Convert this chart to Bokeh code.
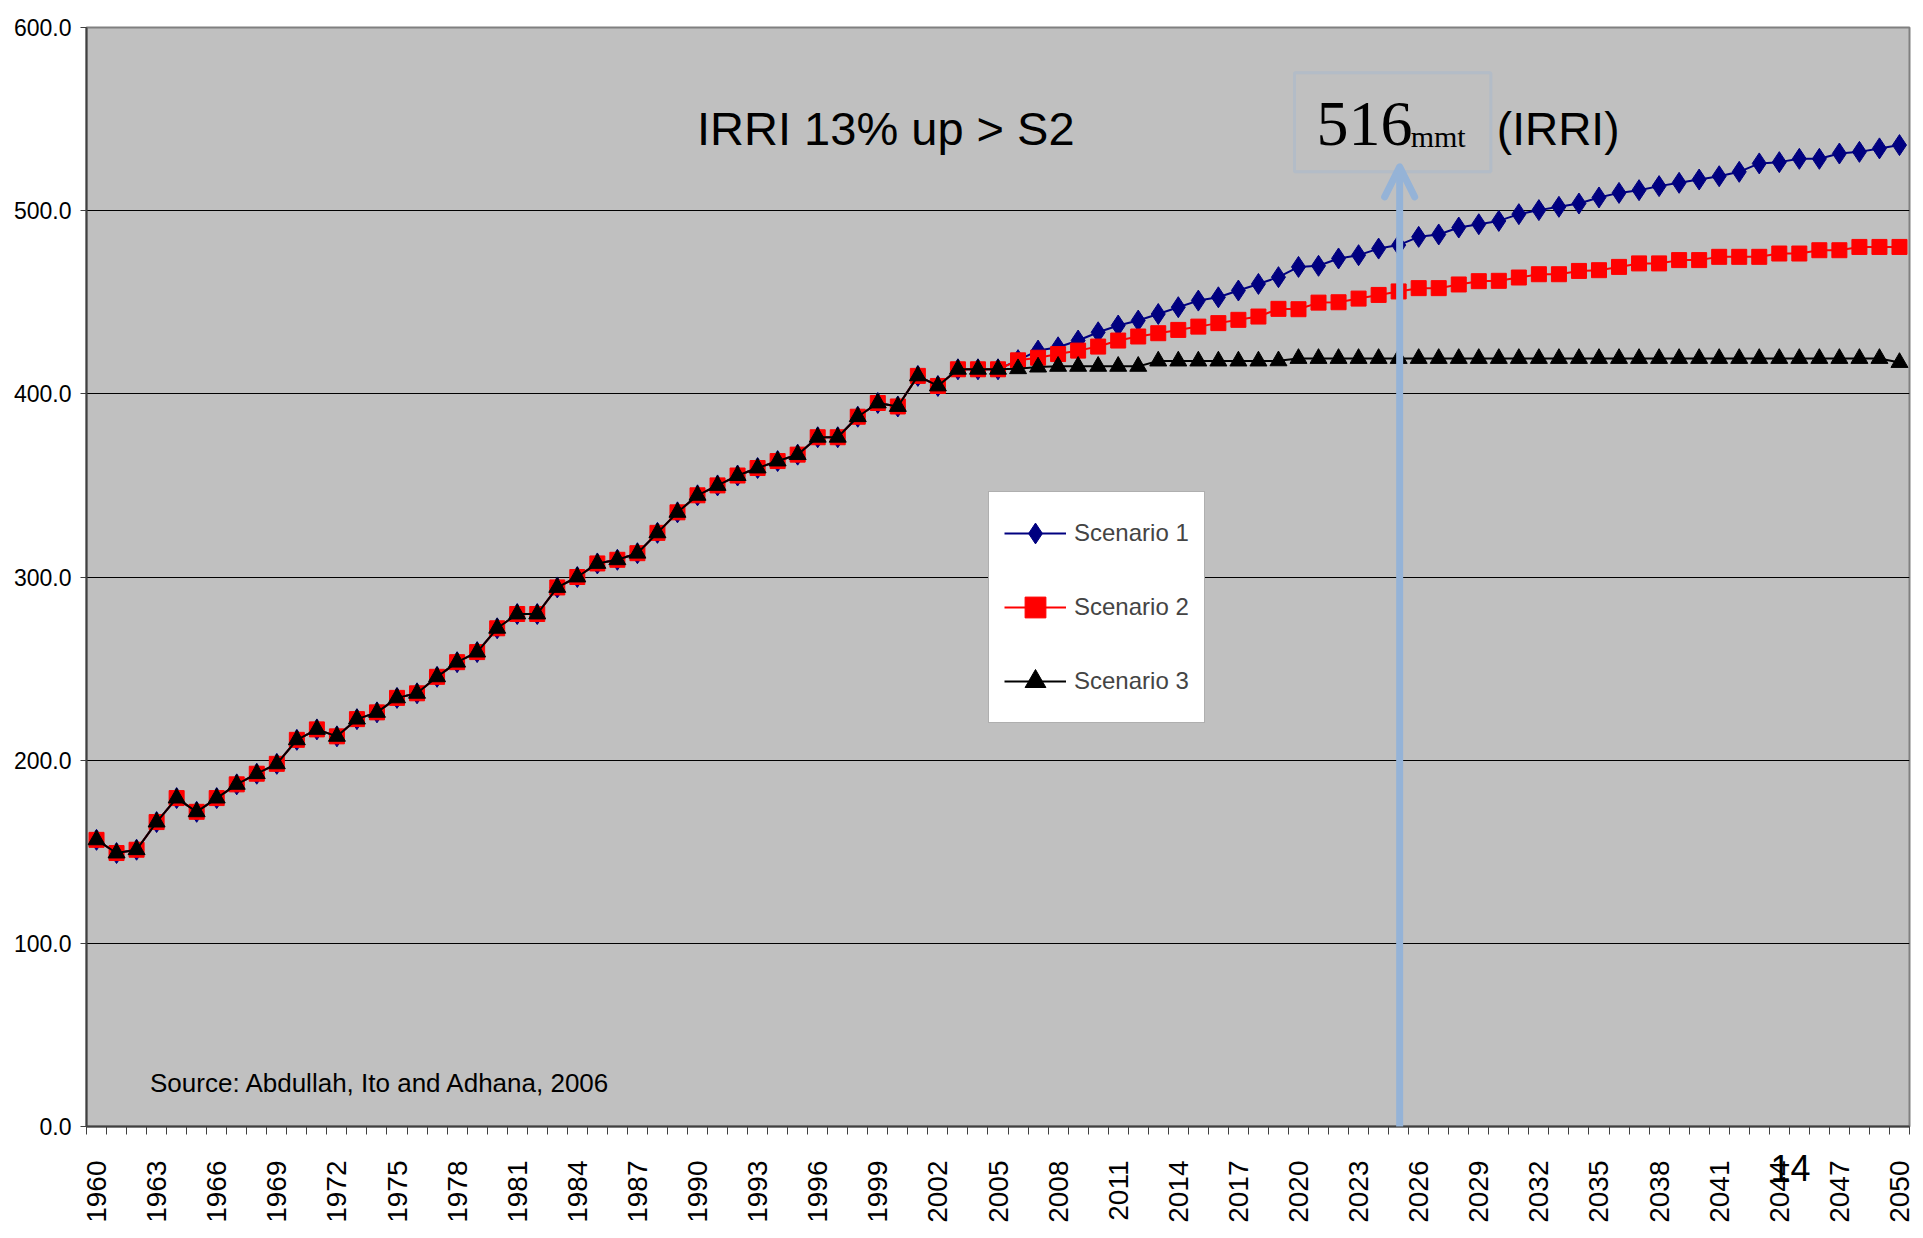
from math import pi
from bokeh.plotting import figure
from bokeh.models import (Range1d, FixedTicker, PrintfTickFormatter, Legend, LegendItem,
                          Label, BoxAnnotation, Arrow, OpenHead)
from bokeh.embed import file_html
from bokeh.resources import INLINE

# ---------------- data ----------------
years = list(range(1960, 2051))

history = [156.5, 149.3, 151.1, 166.2, 179.3, 171.8, 179.3, 186.8, 192.6, 198.0,
           211.1, 216.8, 213.0, 222.4, 226.1, 234.0, 236.5, 245.5, 253.5, 259.0,
           272.0, 279.8, 279.8, 294.3, 300.0, 307.4, 309.4, 313.0, 324.1, 335.3,
           344.6, 350.0, 355.4, 359.5, 363.3, 366.8, 376.3, 376.3, 387.5, 395.0,
           393.1, 409.8, 404.3, 413.4, 413.4, 413.4]

s1_proj = [418.4, 423.6, 425.4, 429.1, 433.6, 437.3, 440.0, 443.6, 447.3, 450.9,
           452.7, 456.4, 460.0, 463.7, 469.3, 469.9, 473.9, 475.7, 479.3, 481.2,
           485.7, 487.0, 490.8, 492.6, 494.4, 498.1, 500.3, 502.1, 503.9, 507.2,
           509.7, 511.2, 513.4, 515.2, 517.0, 518.8, 521.2, 525.8, 526.5, 528.3,
           528.3, 531.2, 532.1, 534.0, 535.8]

s2_proj = [418.3, 419.7, 421.7, 423.6, 425.8, 429.1, 431.3, 433.1, 434.9, 436.7,
           438.6, 440.4, 442.2, 446.4, 446.2, 449.8, 450.0, 452.0, 454.0, 455.9,
           457.7, 457.7, 459.7, 461.5, 461.7, 463.5, 465.3, 465.3, 467.1, 467.5,
           469.3, 471.2, 471.2, 473.0, 473.0, 474.8, 474.8, 474.8, 476.6, 476.6,
           478.4, 478.4, 480.2, 480.2, 480.2]

s3_proj = [413.7, 414.6, 415.0, 415.0, 415.0, 415.0, 415.0, 417.9, 417.9, 417.9,
           417.9, 417.9, 417.9, 418.0, 419.3, 419.3, 419.3, 419.3, 419.3, 419.3,
           419.3, 419.3, 419.3, 419.3, 419.3, 419.3, 419.3, 419.3, 419.3, 419.3,
           419.3, 419.3, 419.3, 419.3, 419.3, 419.3, 419.3, 419.3, 419.3, 419.3,
           419.3, 419.3, 419.3, 419.3, 417.1]

series_names = ["Scenario 1", "Scenario 2", "Scenario 3"]
x_tick_years = [1960, 1963, 1966, 1969, 1972, 1975, 1978, 1981, 1984, 1987, 1990,
                1993, 1996, 1999, 2002, 2005, 2008, 2011, 2014, 2017, 2020, 2023,
                2026, 2029, 2032, 2035, 2038, 2041, 2044, 2047, 2050]
y_ticks = [0, 100, 200, 300, 400, 500, 600]

irri_year = 2025.05
irri_value = 516
source_text = "Source: Abdullah, Ito and Adhana, 2006"
page_number = "14"

s1 = history + s1_proj
s2 = history + s2_proj
s3 = history + s3_proj

# ---------------- figure ----------------
p = figure(frame_width=1823, frame_height=1099, output_backend="svg", toolbar_location=None,
           x_range=Range1d(1959.5, 2050.5), y_range=Range1d(0, 600),
           min_border_left=86, min_border_right=12, min_border_top=27, min_border_bottom=60)

p.background_fill_color = "#C0C0C0"
p.border_fill_color = "white"
p.outline_line_color = "#808080"
p.outline_line_width = 2

p.xgrid.visible = False
p.ygrid.ticker = FixedTicker(ticks=y_ticks)
p.ygrid.grid_line_color = "black"
p.ygrid.grid_line_width = 1

# y axis
ya = p.yaxis[0]
ya.ticker = FixedTicker(ticks=y_ticks)
ya.formatter = PrintfTickFormatter(format="%.1f")
ya.major_label_text_font = "Liberation Sans"
ya.major_label_text_font_size = "23px"
ya.major_label_text_color = "black"
ya.major_tick_out = 6
ya.major_tick_in = 0
ya.minor_tick_out = 0
ya.minor_tick_in = 0
ya.major_label_standoff = 9
ya.axis_line_color = "#404040"
ya.axis_line_width = 2
ya.major_tick_line_color = "#404040"

# x axis
xa = p.xaxis[0]
xa.ticker = FixedTicker(ticks=x_tick_years,
                        minor_ticks=[y - 0.5 for y in years] + [years[-1] + 0.5])
xa.major_label_orientation = pi / 2
xa.major_label_text_font = "Liberation Sans"
xa.major_label_text_font_size = "28px"
xa.major_label_text_color = "black"
xa.major_tick_out = 0
xa.major_tick_in = 0
xa.minor_tick_out = 8
xa.minor_tick_in = 0
xa.minor_tick_line_color = "#404040"
xa.major_label_standoff = 26
xa.axis_line_color = "#404040"
xa.axis_line_width = 2

# series
l1 = p.line(years, s1, line_color="#000080", line_width=2)
m1 = p.scatter(years, s1, marker="diamond", size=21, fill_color="#000080", line_color="#000080")
l2 = p.line(years, s2, line_color="#FF0000", line_width=2)
m2 = p.scatter(years, s2, marker="square", size=15, fill_color="#FF0000", line_color="#FF0000")
l3 = p.line(years, s3, line_color="black", line_width=2)
m3 = p.scatter(years, s3, marker="triangle", size=17, fill_color="black", line_color="black")

legend = Legend(items=[LegendItem(label=series_names[0], renderers=[l1, m1]),
                       LegendItem(label=series_names[1], renderers=[l2, m2]),
                       LegendItem(label=series_names[2], renderers=[l3, m3])],
                location=(902, 403))
legend.background_fill_color = "white"
legend.background_fill_alpha = 1
legend.border_line_color = "#606060"
legend.border_line_width = 1
legend.label_text_font = "Liberation Sans"
legend.label_text_font_size = "24px"
legend.glyph_width = 62
legend.glyph_height = 52
legend.label_height = 52
legend.label_width = 115
legend.label_standoff = 8
legend.spacing = 22
legend.padding = 15
legend.margin = 0
p.add_layout(legend)

# annotations
c_arrow = "#95B3D7"
p.add_layout(BoxAnnotation(left=2019.8, right=2029.6, bottom=521.2, top=575.3,
                           fill_alpha=0, line_color=c_arrow, line_width=3))
p.add_layout(Arrow(end=OpenHead(size=30, line_color=c_arrow, line_width=7, line_cap="round",
                                line_join="round"),
                   x_start=irri_year, y_start=0, x_end=irri_year, y_end=523.9,
                   line_color=c_arrow, line_width=7))
# the part of the arrow shaft that runs below the x axis
p.add_layout(Arrow(end=None, x_start=irri_year, y_start=-11.3, x_end=irri_year, y_end=0,
                   line_color=c_arrow, line_width=7), "below")

p.add_layout(Label(x=1999.4, y=544.6, text="IRRI 13% up > S2", text_align="center",
                   text_baseline="middle", text_font="Liberation Sans",
                   text_font_size="47px", text_color="black"))
p.add_layout(Label(x=2020.9, y=547.3, text=str(irri_value), text_align="left",
                   text_baseline="middle", text_font="Liberation Serif",
                   text_font_size="64px", text_color="black"))
p.add_layout(Label(x=2025.6, y=540.5, text="mmt", text_align="left",
                   text_baseline="middle", text_font="Liberation Serif",
                   text_font_size="30px", text_color="black"))
p.add_layout(Label(x=2029.9, y=544.6, text="(IRRI)", text_align="left",
                   text_baseline="middle", text_font="Liberation Sans",
                   text_font_size="46px", text_color="black"))
p.add_layout(Label(x=1962.67, y=23.5, text=source_text, text_align="left",
                   text_baseline="middle", text_font="Liberation Sans",
                   text_font_size="26px", text_color="black"))
# slide page number, below the plot frame (placed in the lower side panel)
p.add_layout(Label(x=1684, y=84, x_units="screen", y_units="screen", text=page_number,
                   text_align="left", text_baseline="middle", text_font="Liberation Sans",
                   text_font_size="36px", text_color="black"), "below")

open("out.html", "w").write(file_html(p, INLINE))
